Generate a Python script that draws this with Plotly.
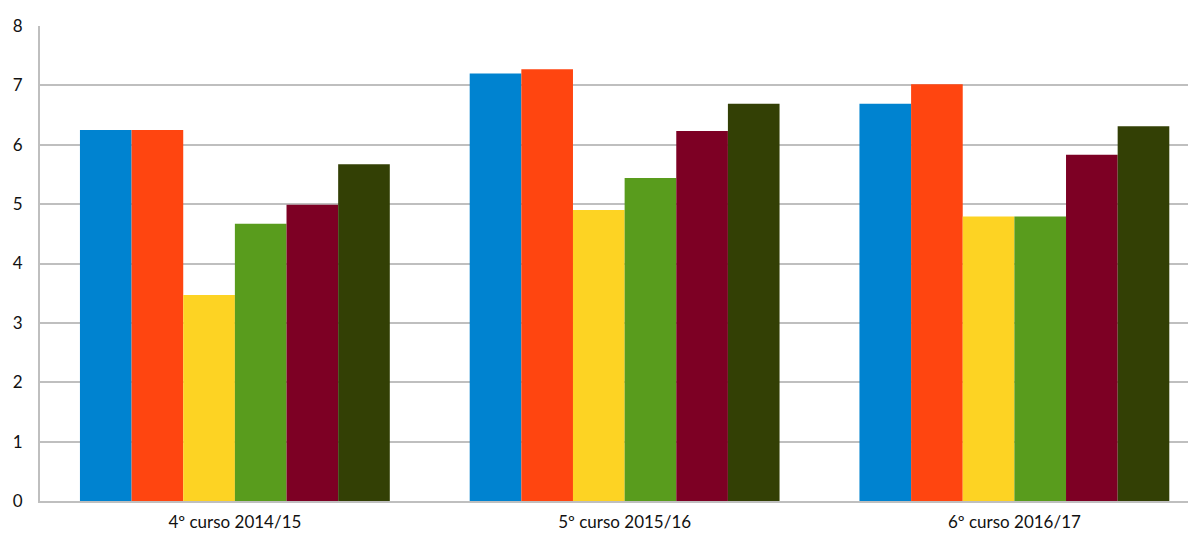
import plotly.graph_objects as go

categories = ["4º curso 2014/15", "5º curso 2015/16", "6º curso 2016/17"]
series_names = ["Serie 1", "Serie 2", "Serie 3", "Serie 4", "Serie 5", "Serie 6"]
serie1 = [6.25, 7.20, 6.69]
serie2 = [6.25, 7.27, 7.02]
serie3 = [3.47, 4.90, 4.79]
serie4 = [4.67, 5.44, 4.79]
serie5 = [4.99, 6.23, 5.83]
serie6 = [5.67, 6.69, 6.31]
colors = ["#0083D0", "#FF4510", "#FDD323", "#599C1D", "#7D0024", "#334005"]
y_ticks = [0, 1, 2, 3, 4, 5, 6, 7, 8]

fig = go.Figure()
for name, vals, col in zip(series_names, [serie1, serie2, serie3, serie4, serie5, serie6], colors):
    fig.add_trace(go.Bar(x=categories, y=vals, name=name, marker=dict(color=col, line=dict(width=0))))

fig.update_layout(
    width=1188, height=528,
    barmode="group", bargap=0.205, bargroupgap=0,
    showlegend=False,
    plot_bgcolor="white", paper_bgcolor="white",
    margin=dict(l=32, r=0, t=18, b=35),
    font=dict(family="Lato, Open Sans, sans-serif", size=17, color="#111111"),
    xaxis=dict(range=[-0.5, 2.466], showline=True, linecolor="#BFBFBF", linewidth=2,
               showgrid=False, ticks="", tickfont=dict(size=17), ticklabelstandoff=5),
    yaxis=dict(range=[0, 8], tickvals=y_ticks, showline=True, linecolor="#BFBFBF", linewidth=2,
               gridcolor="#BFBFBF", gridwidth=2, zeroline=False, ticks="",
               ticklabelstandoff=12, tickfont=dict(size=17)),
)

fig.write_html("out.html")
